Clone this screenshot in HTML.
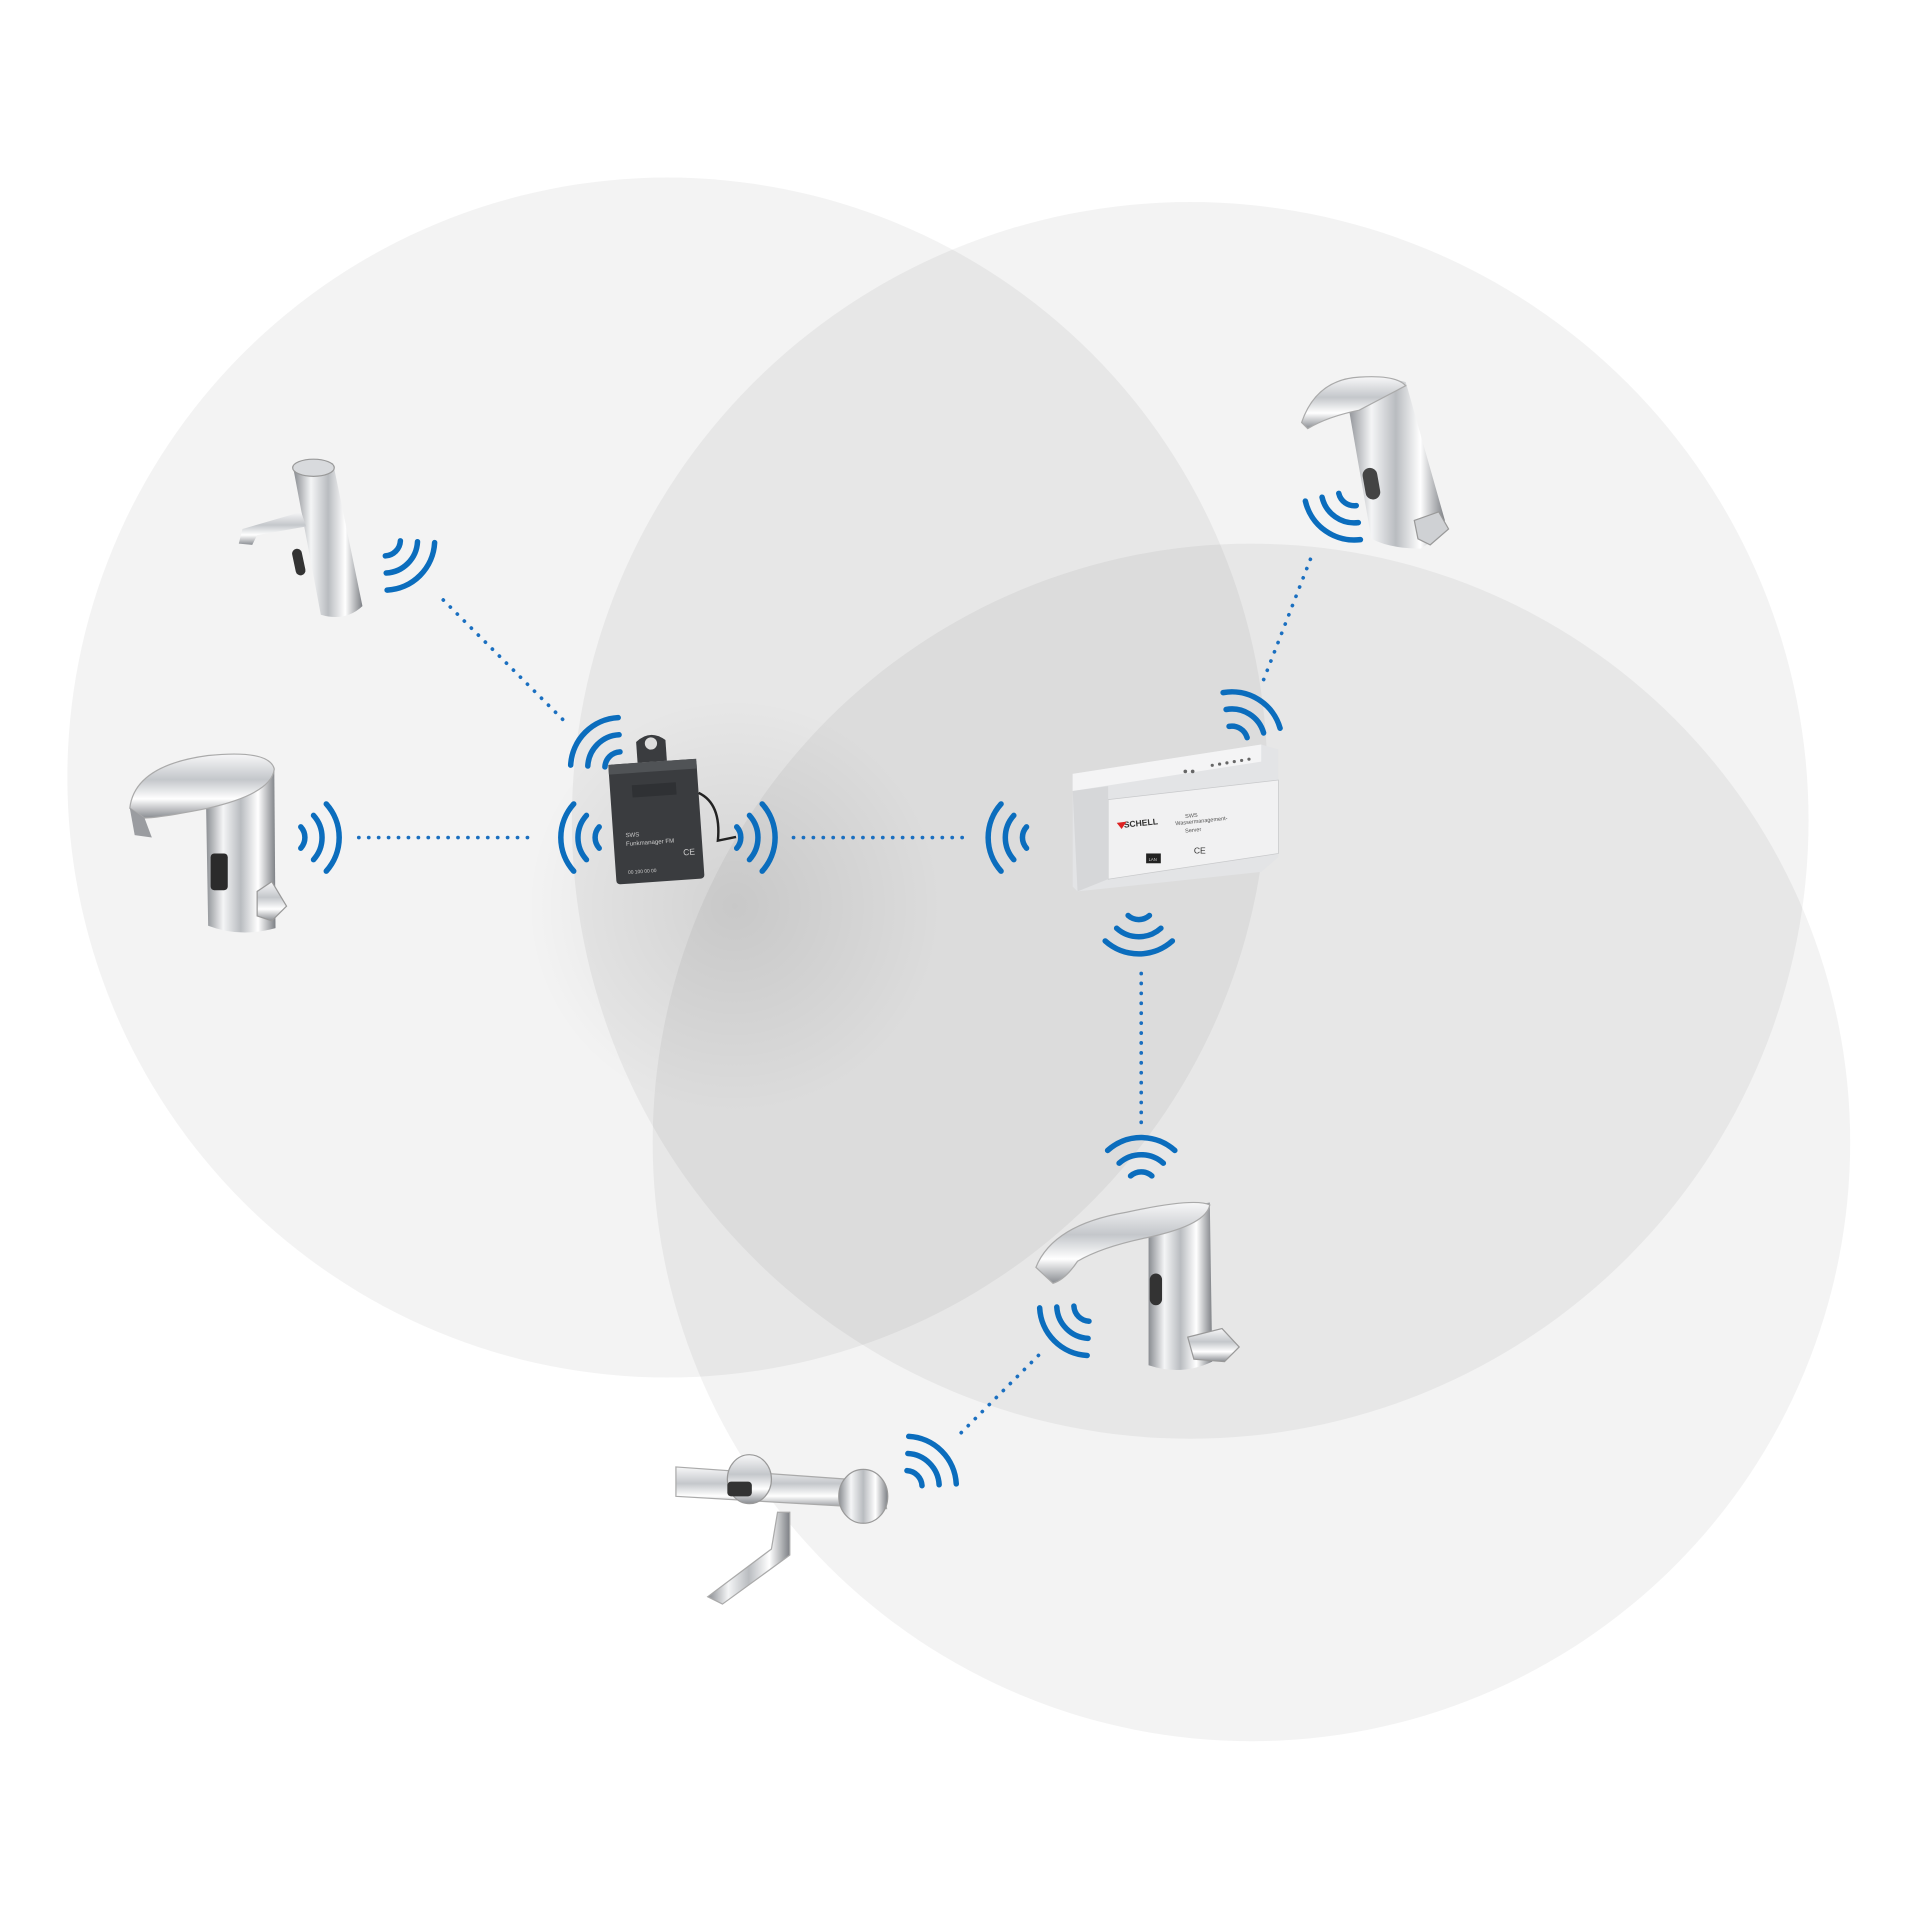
<!DOCTYPE html>
<html><head><meta charset="utf-8"><style>
html,body{margin:0;padding:0;background:#fff;}
svg{display:block}
text{font-family:"Liberation Sans",sans-serif}
</style></head><body>
<svg id="s" width="1920" height="1920" viewBox="0 0 1568 1568" xmlns="http://www.w3.org/2000/svg">
<defs>
<radialGradient id="sh" cx="600" cy="740" r="170" gradientUnits="userSpaceOnUse">
<stop offset="0" stop-color="#000" stop-opacity="0.09"/><stop offset="1" stop-color="#000" stop-opacity="0"/>
</radialGradient>
<linearGradient id="ch" x1="0" y1="0" x2="1" y2="0">
<stop offset="0" stop-color="#8a8d92"/><stop offset="0.25" stop-color="#f4f5f6"/><stop offset="0.5" stop-color="#b9bcc0"/><stop offset="0.75" stop-color="#ffffff"/><stop offset="1" stop-color="#7d8085"/>
</linearGradient>
<linearGradient id="chv" x1="0" y1="0" x2="0" y2="1">
<stop offset="0" stop-color="#f7f7f8"/><stop offset="0.4" stop-color="#c4c7cb"/><stop offset="0.7" stop-color="#ffffff"/><stop offset="1" stop-color="#8a8d92"/>
</linearGradient>
</defs>
<rect width="1568" height="1568" fill="#fff"/>
<g fill="#000" fill-opacity="0.048">
<circle cx="545" cy="635" r="490"/>
<circle cx="972" cy="670" r="505"/>
<circle cx="1022" cy="933" r="489"/>
</g>
<circle cx="600" cy="740" r="170" fill="url(#sh)"/>
<g stroke="#1a6fc0" stroke-width="3" stroke-dasharray="0.1 8" stroke-linecap="round" fill="none">
<line x1="362" y1="490" x2="460" y2="588"/>
<line x1="293" y1="684" x2="437" y2="684"/>
<line x1="648" y1="684" x2="790" y2="684"/>
<line x1="1032" y1="555" x2="1072" y2="452"/>
<line x1="932" y1="795" x2="932" y2="918"/>
<line x1="785" y1="1170" x2="852" y2="1103"/>
</g>
<g id="arcs" stroke="#0b6dbd" stroke-width="4.5" stroke-linecap="round" fill="none"></g>

<g>
<path d="M240 385 L272 378 L296 495 Q282 508 262 502 Z" fill="url(#ch)"/>
<ellipse cx="256" cy="382" rx="17" ry="7" fill="#d8dadd" stroke="#999" stroke-width="1"/>
<path d="M246 418 L198 432 L195 444 L206 445 L210 437 L250 430 Z" fill="url(#chv)"/>
<rect x="240" y="448" width="8" height="22" rx="4" fill="#333" transform="rotate(-12 244 459)"/>
</g>
<g>
<path d="M168 640 L224 628 L225 758 Q196 766 170 756 Z" fill="url(#ch)"/>
<path d="M106 660 Q110 625 170 617 Q220 612 224 628 Q222 648 170 660 Q130 668 118 668 Z" fill="url(#chv)" stroke="#aaa" stroke-width="1"/>
<path d="M106 660 L118 668 L124 684 L110 682 Z" fill="#9a9ca0"/>
<rect x="172" y="697" width="14" height="30" rx="3" fill="#2b2b2b"/>
<path d="M210 728 L222 720 L234 740 L222 752 L210 748 Z" fill="url(#chv)" stroke="#999" stroke-width="1"/>
</g>
<g>
<path d="M1100 325 Q1120 305 1148 312 L1180 425 Q1175 440 1160 448 Q1135 448 1120 440 Z" fill="url(#ch)"/>
<path d="M1063 345 Q1075 310 1110 308 Q1140 306 1148 315 L1110 335 Q1085 340 1068 350 Z" fill="url(#chv)" stroke="#aaa" stroke-width="1"/>
<rect x="1114" y="382" width="12" height="26" rx="6" fill="#444" transform="rotate(-10 1120 395)"/>
<path d="M1155 425 L1175 418 L1183 432 L1168 445 L1158 440 Z" fill="#cfd1d4" stroke="#999" stroke-width="1"/>
</g>
<g transform="rotate(-4 536 670)">
<rect x="500" y="622" width="72" height="98" rx="3" fill="#3a3c3f"/>
<rect x="500" y="622" width="72" height="8" fill="#505356"/>
<path d="M524 622 L524 605 Q536 595 548 605 L548 622 Z" fill="#3a3c3f"/>
<circle cx="536" cy="607" r="5" fill="#ddd"/>
<rect x="518" y="640" width="36" height="10" fill="#2f3134"/>
<text x="510" y="682" font-size="5" fill="#ccc">SWS</text>
<text x="510" y="689" font-size="5" fill="#ccc">Funkmanager FM</text>
<text x="510" y="712" font-size="4" fill="#ccc">00 100 00 00</text>
<text x="556" y="700" font-size="7" fill="#ccc">CE</text>
<path d="M572 650 Q590 660 585 690 L600 688" stroke="#222" stroke-width="2" fill="none"/>
</g>
<g>
<path d="M876 632 L1030 608 L1044 612 L1044 700 L1030 712 L880 728 L876 724 Z" fill="#e3e4e6"/>
<path d="M876 632 L1030 608 L1030 622 L876 646 Z" fill="#f4f4f5"/>
<path d="M905 653 L1044 637 L1044 697 L905 718 Z" fill="#f1f1f2" stroke="#c8c9cb" stroke-width="0.6"/>
<path d="M876 646 L905 642 L905 718 L880 728 Z" fill="#d6d7d9"/>
<text x="918" y="676" font-size="7" font-weight="bold" fill="#333" transform="rotate(-6 918 676)">SCHELL</text>
<path d="M912 672 l8 -1 l-4 6 z" fill="#d22"/>
<text x="968" y="668" font-size="4.5" fill="#555" transform="rotate(-6 968 668)">SWS</text>
<text x="960" y="674" font-size="4.5" fill="#555" transform="rotate(-6 960 674)">Wassermanagement-</text>
<text x="968" y="680" font-size="4.5" fill="#555" transform="rotate(-6 968 680)">Server</text>
<rect x="936" y="697" width="12" height="8" fill="#222"/>
<text x="938" y="703" font-size="3.5" fill="#ccc">LAN</text>
<text x="975" y="697" font-size="7" fill="#333">CE</text>
<g fill="#666"><circle cx="968" cy="630" r="1.5"/><circle cx="974" cy="630" r="1.5"/><circle cx="990" cy="625" r="1.3"/><circle cx="996" cy="624" r="1.3"/><circle cx="1002" cy="623" r="1.3"/><circle cx="1008" cy="622" r="1.3"/><circle cx="1014" cy="621" r="1.3"/><circle cx="1020" cy="620" r="1.3"/></g>
</g>
<g>
<path d="M938 990 L988 982 L990 1112 Q965 1124 938 1115 Z" fill="url(#ch)"/>
<path d="M846 1035 Q860 1000 920 990 Q975 978 988 984 Q985 1000 940 1010 Q900 1018 880 1030 Q870 1045 860 1048 Z" fill="url(#chv)" stroke="#aaa" stroke-width="1"/>
<rect x="939" y="1040" width="10" height="26" rx="5" fill="#333"/>
<path d="M970 1092 L998 1085 L1012 1100 L1000 1112 L975 1110 Z" fill="url(#chv)" stroke="#999" stroke-width="1"/>
</g>
<g>
<path d="M552 1198 L720 1210 L724 1232 L552 1222 Z" fill="url(#chv)" stroke="#aaa" stroke-width="1"/>
<ellipse cx="612" cy="1208" rx="18" ry="20" fill="url(#chv)" stroke="#999" stroke-width="1"/>
<rect x="594" y="1210" width="20" height="12" rx="3" fill="#333"/>
<ellipse cx="705" cy="1222" rx="20" ry="22" fill="url(#ch)" stroke="#999" stroke-width="1"/>
<path d="M635 1235 L645 1235 L645 1270 L590 1310 L578 1304 L630 1265 Z" fill="url(#ch)" stroke="#aaa" stroke-width="1"/>
</g>
</svg>
<script>
var g=document.getElementById('arcs');
var groups=[[314,441,45],[236,684,0],[499,684,180],[507,627,-135],[592,684,0],[848,684,180],[1006,606,-58],[1106,400,125],[930,738,90],[932,970,-90],[890,1066,135],[740,1214,-45]];
var radii=[13,27,41],half=42;
groups.forEach(function(a){
 radii.forEach(function(r){
  var t1=(a[2]-half)*Math.PI/180,t2=(a[2]+half)*Math.PI/180;
  var x1=a[0]+r*Math.cos(t1),y1=a[1]+r*Math.sin(t1),x2=a[0]+r*Math.cos(t2),y2=a[1]+r*Math.sin(t2);
  var p=document.createElementNS('http://www.w3.org/2000/svg','path');
  p.setAttribute('d','M'+x1+' '+y1+' A'+r+' '+r+' 0 0 1 '+x2+' '+y2);
  g.appendChild(p);
 });
});
</script>
</body></html>
